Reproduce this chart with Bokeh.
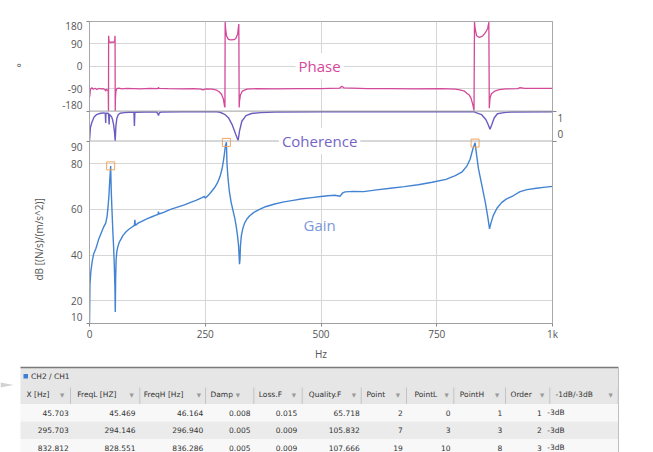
import math
from bokeh.plotting import figure
from bokeh.models import Range1d, LinearAxis, FixedTicker, Span, Label, Title, ColumnDataSource
from bokeh.core.properties import value
from bokeh.embed import file_html
from bokeh.resources import INLINE

# ---------------- data ----------------
gain_f = [0, 1, 3, 6, 9, 14, 20, 26, 31, 35, 38, 40, 42, 43.5, 45.7, 47, 48.5, 50.5, 52, 53.5, 55, 55.7,
          56.5, 57.5, 59, 61, 64, 68, 72, 78, 85, 92, 97, 98, 99, 105, 115, 125, 135, 145, 148, 149, 150,
          160, 175, 190, 205, 217, 230, 243, 248, 250, 253, 258, 264, 270, 276, 282, 286, 289, 291.5,
          293.5, 295.7, 297, 299, 302, 306, 310, 314, 317, 320, 322, 323, 324, 325, 326, 328, 331, 335,
          340, 346, 355, 365, 380, 400, 420, 440, 460, 480, 500, 515, 530, 541, 547, 552, 570, 592, 620,
          650, 680, 710, 740, 770, 790, 805, 815, 822, 828, 832.8, 836, 840, 845, 850, 855, 860, 864, 867,
          872, 880, 890, 900, 915, 930, 945, 965, 985, 1000]
gain_db = [10, 27, 33, 37.5, 40.5, 43, 47, 50, 52.5, 54, 57, 61, 66, 72, 79, 68, 60, 50, 44, 36, 25, 15,
           30, 38, 41.5, 43.5, 45.5, 47, 48.5, 50, 51.3, 52.3, 53, 55.5, 53, 54, 55, 56, 56.8, 57.6, 57.8, 59, 58,
           58.7, 60, 61, 62, 63, 64, 65.2, 65.7, 65, 65.5, 66.5, 68, 69.5, 71.5, 74.5, 77.5, 81, 84.5,
           88, 89.5, 80, 74, 68, 63, 59.5, 56, 52.5, 48, 44, 40, 36, 38, 44, 48.5, 51.5, 54,
           55.8, 57.2, 58.7, 59.8, 61.2, 62.4, 63.3, 64, 64.7, 65.2, 65.7, 66, 66.2, 65.8, 67.3, 67.7, 67.9, 67.8, 68.6,
           69.3, 70, 70.8, 71.9, 73.2, 74.8, 76.5, 79, 82, 86.5, 89.2, 84, 78, 73, 68, 63, 57, 51.5, 54,
           57.3, 60.5, 63, 64.5, 66, 67.8, 68.7, 69.3, 69.8, 70.1]

phase_f = [0, 0.5, 2, 5, 8, 12, 16, 20, 25, 30, 34, 35, 36, 39, 40.5, 41, 41.3, 42, 43, 45.7, 48, 51, 53,
           54.5, 55.2, 55.6, 56, 57, 59, 63, 70, 80, 95, 110, 130, 148, 149, 150, 170, 200, 225, 240, 245,
           252, 265, 275, 280, 285, 289, 291.6, 292.5, 293, 294, 296, 300, 305, 312, 316, 320, 322.5,
           323.3, 324, 326, 330, 340, 360, 400, 450, 500, 540, 545, 550, 600, 650, 700, 760, 790, 800,
           810, 815, 820, 824, 828, 830.5, 831.5, 833, 836, 842, 849, 855, 860, 862.5, 863.5, 865, 868,
           875, 885, 900, 925, 930, 940, 970, 1000]
phase_deg = [-110, -122, -92, -86, -92, -88, -93, -89, -91, -90, -95, -100, -92, -96, -100, -180, 123, 105,
             98, 95, 98, 96, 99, 105, 123, -180, -130, -100, -90, -88, -91, -89, -90, -91, -89, -90, -84,
             -89, -90, -91, -90, -92, -95, -91, -92, -96, -102, -112, -130, -160, -165, 178, 150, 122,
             108, 106, 107, 112, 130, 170, -165, -140, -115, -100, -92, -90, -91, -90, -90, -88, -80,
             -87, -90, -90, -91, -90, -92, -95, -100, -108, -115, -128, -155, -178, 178, 150, 123, 116,
             121, 135, 152, 178, -168, -128, -110, -100, -94, -91, -90, -86, -89, -89, -89]

coh_f = [0, 2, 5, 10, 15, 20, 25, 30, 34, 35, 35.5, 38, 41, 42.5, 43, 45, 48, 50, 52, 54, 55.5, 57, 59,
         62, 66, 75, 85, 96, 97, 98, 120, 145, 148, 149, 151, 155, 200, 275, 282, 288, 293, 300, 308,
         316, 321, 324, 329, 338, 350, 370, 400, 500, 830, 836, 847, 856, 861, 865, 869, 874, 881, 895,
         910, 1000]
coh_v = [0.0, 0.45, 0.62, 0.8, 0.88, 0.91, 0.93, 0.94, 0.93, 0.6, 0.93, 0.93, 0.92, 0.55, 0.9, 0.85, 0.8,
         0.7, 0.55, 0.3, 0.0, 0.5, 0.75, 0.88, 0.93, 0.95, 0.96, 0.96, 0.5, 0.96, 0.97, 0.97, 0.9, 0.85,
         0.95, 0.97, 0.98, 0.98, 0.96, 0.92, 0.88, 0.78, 0.55, 0.22, 0.02, 0.33, 0.66, 0.85, 0.92, 0.95,
         0.97, 0.98, 0.98, 0.94, 0.88, 0.72, 0.55, 0.39, 0.55, 0.77, 0.91, 0.95, 0.97, 0.98]

x_hz = [45.703, 295.703, 832.812]
peak_db = [79.1, 89.4, 89.1]
freq_l = [45.469, 294.146, 828.551]
freq_h = [46.164, 296.940, 836.286]
damp = [0.008, 0.005, 0.005]
loss_f = [0.015, 0.009, 0.009]
quality_f = [65.718, 105.832, 107.666]
point = [2, 7, 19]
point_l = [0, 3, 10]
point_h = [1, 3, 8]
order = [1, 2, 3]
db_mode = ["-3dB", "-3dB", "-3dB"]

x_ticks = [0, 250, 500, 750, 1000]
x_tick_labels = ["0", "250", "500", "750", "1k"]
gain_labels = ["90", "80", "60", "40", "20", "10"]
phase_labels = ["180", "90", "0", "-90", "-180"]
coh_labels = ["1", "0"]
col_names = ["X [Hz]", "FreqL [HZ]", "FreqH [Hz]", "Damp", "Loss.F", "Quality.F", "Point", "PointL",
             "PointH", "Order", "-1dB/-3dB"]

# ---------------- layout ----------------
FONT = "Open Sans"
TICK_C = "#555555"
W = 653
H1 = 363
FL, FT = 89, 21
FW, FH = 463, 305
FR, FB = W - FL - FW, H1 - FT - FH
PH_TOP, PH_BOT, CO_BOT = 0.0, 90.5, 120.7

def fit(lo, hi, top, bot):
    s = (hi - lo) / (bot - top)
    return Range1d(start=lo - (FH - bot) * s, end=hi + top * s)

g_rng = fit(10, 90, CO_BOT, FH)
ph_rng = fit(-180, 180, PH_TOP, PH_BOT)
co_rng = fit(0, 1, PH_BOT, CO_BOT)

def ph2g(v):
    return round(g_rng.start + (v - ph_rng.start) * (g_rng.end - g_rng.start) / (ph_rng.end - ph_rng.start), 4)

p = figure(width=W, height=H1, min_border_left=FL, min_border_right=FR, min_border_top=FT,
           min_border_bottom=FB, x_range=Range1d(0, 1000), y_range=g_rng,
           output_backend="svg", toolbar_location=None)
p.extra_y_ranges = {"phase": ph_rng, "coh": co_rng}
p.outline_line_color = "#a8a8a8"
p.background_fill_color = "white"
p.border_fill_color = "white"

# grids
p.xgrid.ticker = FixedTicker(ticks=[250, 500, 750])
p.ygrid.ticker = FixedTicker(ticks=[20, 40, 60, 80, ph2g(90), ph2g(0), ph2g(-90)])
p.grid.grid_line_color = "#d6d6d6"
p.add_layout(Span(location=ph2g(-180), dimension="width", line_color="#a0a0a0", line_width=1))
p.add_layout(Span(location=90, dimension="width", line_color="#b0b0b0", line_width=1))

# left axis: phase and gain labels on one axis
gain_pos = [87.3, 80, 60, 40, 20, 13.0]
phase_pos = [ph2g(v) for v in [160, 90, 0, -90, -154]]
left_ticks = gain_pos + phase_pos
overrides = {t: s for t, s in zip(left_ticks, gain_labels + phase_labels)}
ya = p.yaxis[0]
ya.ticker = FixedTicker(ticks=left_ticks, minor_ticks=[ph2g(180), ph2g(-180), 90, 10])
ya.major_label_overrides = overrides
ya.major_tick_out = 0
ya.major_tick_in = 0
ya.minor_tick_out = 3
ya.minor_tick_in = 0
ya.minor_tick_line_color = "#888888"
ya.major_label_standoff = 4
ya.axis_line_color = "#a8a8a8"

# right axis: coherence
ra = LinearAxis(y_range_name="coh", ticker=FixedTicker(ticks=[0.775, 0.22], minor_ticks=[0, 1]),
                major_label_overrides={0.775: coh_labels[0], 0.22: coh_labels[1]})
ra.major_tick_out = 0
ra.major_tick_in = 0
ra.minor_tick_out = 4
ra.minor_tick_in = 0
ra.minor_tick_line_color = "#888888"
ra.major_label_standoff = 1
ra.axis_line_color = "#a8a8a8"
p.add_layout(ra, "right")

xa = p.xaxis[0]
xa.ticker = FixedTicker(ticks=x_ticks)
xa.major_label_overrides = {t: s for t, s in zip(x_ticks, x_tick_labels)}
xa.major_tick_out = 3
xa.major_tick_in = 0
xa.major_tick_line_color = "#888888"
xa.minor_tick_line_color = None
xa.major_label_standoff = 0
xa.axis_line_color = "#a0a0a0"
xa.axis_label = "Hz"
xa.axis_label_standoff = 3
xa.axis_label_text_font = FONT
xa.axis_label_text_font_size = "10px"
xa.axis_label_text_font_style = "normal"
xa.axis_label_text_color = TICK_C

for ax in [xa, ya, ra]:
    ax.major_label_text_font = FONT
    ax.major_label_text_font_size = "10px"
    ax.major_label_text_color = TICK_C

# axis titles on the left side
p.add_layout(Title(text="dB [(N/s)/(m/s^2)]", align="left", offset=43, standoff=27,
                   text_font=FONT, text_font_size="10px", text_font_style="normal",
                   text_color=TICK_C), "left")
p.add_layout(Title(text="°", align="left", offset=256, standoff=-23,
                   text_font=FONT, text_font_size="10px", text_font_style="normal",
                   text_color=TICK_C), "left")

# series
p.line(phase_f, phase_deg, y_range_name="phase", line_color="#d4489a", line_width=1.3)
p.line(coh_f, coh_v, y_range_name="coh", line_color="#6a5cc0", line_width=1.4)
p.line(gain_f, gain_db, line_color="#4283d2", line_width=1.4)
p.scatter(x_hz, peak_db, marker="square", size=8, fill_color=None, line_color="#f4a65c", line_width=1)

# series labels
p.add_layout(Label(x=497, y=0, y_range_name="phase", text="Phase", text_align="center",
                   text_baseline="middle", text_font=FONT, text_font_size="15px", text_color="#d4489a",
                   background_fill_color="white", padding=3))
p.add_layout(Label(x=497, y=0, y_range_name="coh", text="Coherence", text_align="center",
                   text_baseline="middle", text_font=FONT, text_font_size="15px", text_color="#7565c6",
                   background_fill_color="white", padding=3))
p.add_layout(Label(x=497, y=53.3, text="Gain", text_align="center",
                   text_baseline="middle", text_font=FONT, text_font_size="15px", text_color="#7b98d8"))

# ---------------- table ----------------
H2 = 89
Y0 = 363  # absolute top of table figure
t = figure(width=W, height=H2, x_range=Range1d(0, W), y_range=Range1d(H2, 0),
           min_border=0, output_backend="svg", toolbar_location=None,
           x_axis_type=None, y_axis_type=None)
t.grid.visible = False
t.outline_line_color = None
t.background_fill_color = "white"
t.border_fill_color = "white"

def ay_(v): return v - Y0

TL, TR = 20, 618
HDR_TOP, HDR_BOT = ay_(367), ay_(403.5)
ROW_H = 17.5
row_tops = [HDR_BOT + i * ROW_H for i in range(3)]
row_cols = ["#f8f8f8", "#ebebeb", "#f8f8f8"]

t.patch([0, 13, 0], [ay_(382), ay_(384.5), ay_(387)], fill_color="#d2d2d2", line_color=None)
t.quad(left=TL, right=TR, top=HDR_TOP, bottom=HDR_BOT, fill_color="#e6e6e6", line_color=None)
t.quad(left=[TL] * 3, right=[TR] * 3, top=row_tops, bottom=[r + ROW_H for r in row_tops],
       fill_color=row_cols, line_color=None)
t.segment(x0=TL, y0=HDR_TOP, x1=TR, y1=HDR_TOP, line_color="#7a7a7a", line_width=1.5)
t.segment(x0=TR, y0=HDR_TOP, x1=TR, y1=H2, line_color="#c0c0c0", line_width=1)

# group header
t.quad(left=23, right=27.5, top=ay_(373.5), bottom=ay_(378), fill_color="#3d7fd3", line_color=None)
TFONT = value("DejaVu Sans")
t.text(x=[30.5], y=[ay_(376)], text=["CH2 / CH1"], text_font=TFONT, text_font_size="7.5px",
       text_align="left", text_baseline="middle", text_color="#333333")

hdr_x = [26, 76.7, 143.3, 210, 258.3, 308.3, 366, 414, 459.3, 510, 555]
icon_x = [61.7, 131, 198.3, 237.3, 293.3, 353.3, 397.3, 446, 496.7, 541.7, 610]
sep_x = [70, 139.3, 205, 253.3, 301.7, 360.7, 406, 453.3, 505, 549.3, 617.7]
val_r = [68.3, 135, 202.7, 250, 296.7, 359.3, 402.3, 450, 501.7, 541.3]
HDR_Y = ay_(394)

t.text(x=hdr_x, y=[HDR_Y] * len(hdr_x), text=col_names, text_font=TFONT,
       text_font_size="7.5px", text_align="left", text_baseline="middle", text_color="#333333")
t.text(x=icon_x, y=[HDR_Y] * len(icon_x), text=["▼"] * len(icon_x), text_font=TFONT,
       text_font_size="5.5px", text_align="center", text_baseline="middle", text_color="#9a9a9a")
t.segment(x0=sep_x, y0=[ay_(387)] * len(sep_x), x1=sep_x,
          y1=[HDR_BOT] * len(sep_x), line_color="#c4c4c4", line_width=1)

cols = [
    ["%.3f" % v for v in x_hz],
    ["%.3f" % v for v in freq_l],
    ["%.3f" % v for v in freq_h],
    ["%.3f" % v for v in damp],
    ["%.3f" % v for v in loss_f],
    ["%.3f" % v for v in quality_f],
    [str(v) for v in point],
    [str(v) for v in point_l],
    [str(v) for v in point_h],
    [str(v) for v in order],
]
xs, ys, txt = [], [], []
for ci, c in enumerate(cols):
    for ri, s in enumerate(c):
        xs.append(val_r[ci])
        ys.append(row_tops[ri] + ROW_H / 2)
        txt.append(s)
src = ColumnDataSource(dict(x=xs, y=ys, text=txt))
t.text(x="x", y="y", text="text", source=src, text_font=TFONT, text_font_size="7.5px",
       text_align="right", text_baseline="middle", text_color="#333333")
t.text(x=[546.7] * 3, y=[r + ROW_H / 2 for r in row_tops], text=db_mode, text_font=TFONT,
       text_font_size="7.5px", text_align="left", text_baseline="middle", text_color="#333333")

open("out.html", "w").write(file_html([p, t], INLINE))
